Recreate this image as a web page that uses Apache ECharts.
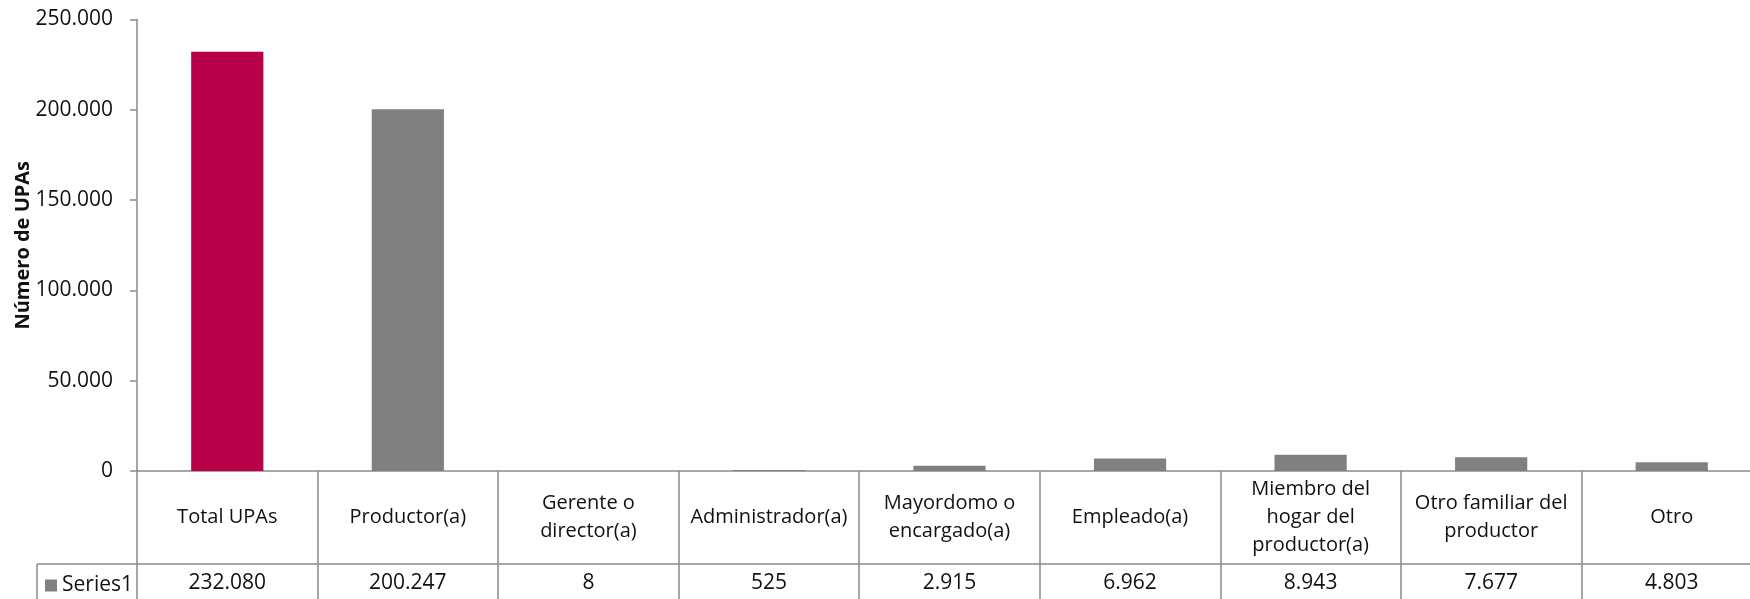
<!DOCTYPE html>
<html>
<head>
<meta charset="utf-8">
<script src="https://cdn.jsdelivr.net/npm/echarts@6/dist/echarts.min.js"></script>
<style>
html,body{margin:0;padding:0;background:#fff;}
#chart{width:1750px;height:599px;}
</style>
</head>
<body>
<div id="chart"></div>
<script>
const categories = ['Total UPAs', 'Productor(a)', 'Gerente o\ndirector(a)', 'Administrador(a)', 'Mayordomo o\nencargado(a)', 'Empleado(a)', 'Miembro del\nhogar del\nproductor(a)', 'Otro familiar del\nproductor', 'Otro'];
const values = [232080, 200247, 8, 525, 2915, 6962, 8943, 7677, 4803];
const seriesName = 'Series1';
const yAxisTitle = 'Número de UPAs';
const yMin = 0, yMax = 250000, yInterval = 50000;

const fmt = v => String(v).replace(/\B(?=(\d{3})+(?!\d))/g, '.');
const FONT = '"Open Sans", "Noto Sans", sans-serif';
const LINE = '#8a8a8a';
const TXT = '#111';
const FS = 20;
const FSN = 21;

const chart = echarts.init(document.getElementById('chart'));
chart.setOption({
  animation: false,
  textStyle: { fontFamily: FONT },
  grid: { left: 137, top: 19.5, right: -12, bottom: 128, containLabel: false, outerBoundsMode: 'none' },
  legend: {
    data: [seriesName], left: 40, top: 570, icon: 'rect', itemWidth: 12, itemHeight: 12,
    textStyle: { fontSize: FSN, color: TXT, fontFamily: FONT }
  },
  xAxis: [{
    type: 'category', data: categories, position: 'bottom',
    axisLine: { show: true, lineStyle: { color: LINE, width: 1.5 } },
    axisTick: { show: true, alignWithLabel: false, interval: 0, length: 140, lineStyle: { color: LINE, width: 1.5 } },
    axisLabel: { interval: 0, margin: 46, verticalAlign: 'middle', align: 'center', lineHeight: 28, fontSize: FS, color: TXT, fontFamily: FONT }
  }, {
    type: 'category', data: categories, position: 'bottom', offset: 93,
    axisLine: { show: true, lineStyle: { color: LINE, width: 1.5 } },
    axisTick: { show: false },
    axisLabel: { interval: 0, margin: 19, verticalAlign: 'middle', align: 'center', fontSize: FSN, color: TXT, fontFamily: FONT,
      formatter: (v, i) => fmt(values[i]) }
  }],
  yAxis: {
    type: 'value', min: yMin, max: yMax, interval: yInterval,
    name: yAxisTitle, nameLocation: 'middle', nameGap: 104, nameMoveOverlap: false,
    nameTextStyle: { fontSize: FS, fontWeight: 'bold', color: TXT, fontFamily: FONT },
    axisLine: { show: true, lineStyle: { color: LINE, width: 1.5 } },
    axisTick: { show: true, length: 7, lineStyle: { color: LINE, width: 1.5 } },
    splitLine: { show: false },
    axisLabel: { margin: 24, fontSize: FSN, color: TXT, fontFamily: FONT, formatter: v => fmt(v) }
  },
  graphic: [
    { type: 'line', shape: { x1: 37, y1: 564, x2: 137, y2: 564 }, style: { stroke: LINE, lineWidth: 1.5 } },
    { type: 'line', shape: { x1: 37, y1: 564, x2: 37, y2: 620 }, style: { stroke: LINE, lineWidth: 1.5 } }
  ],
  series: [{
    name: seriesName, type: 'bar', xAxisIndex: 0, barWidth: '40%',
    itemStyle: { color: '#808080' },
    data: values.map((v, i) => i === 0 ? { value: v, itemStyle: { color: '#B8004A' } } : v)
  }]
});
</script>
</body>
</html>
